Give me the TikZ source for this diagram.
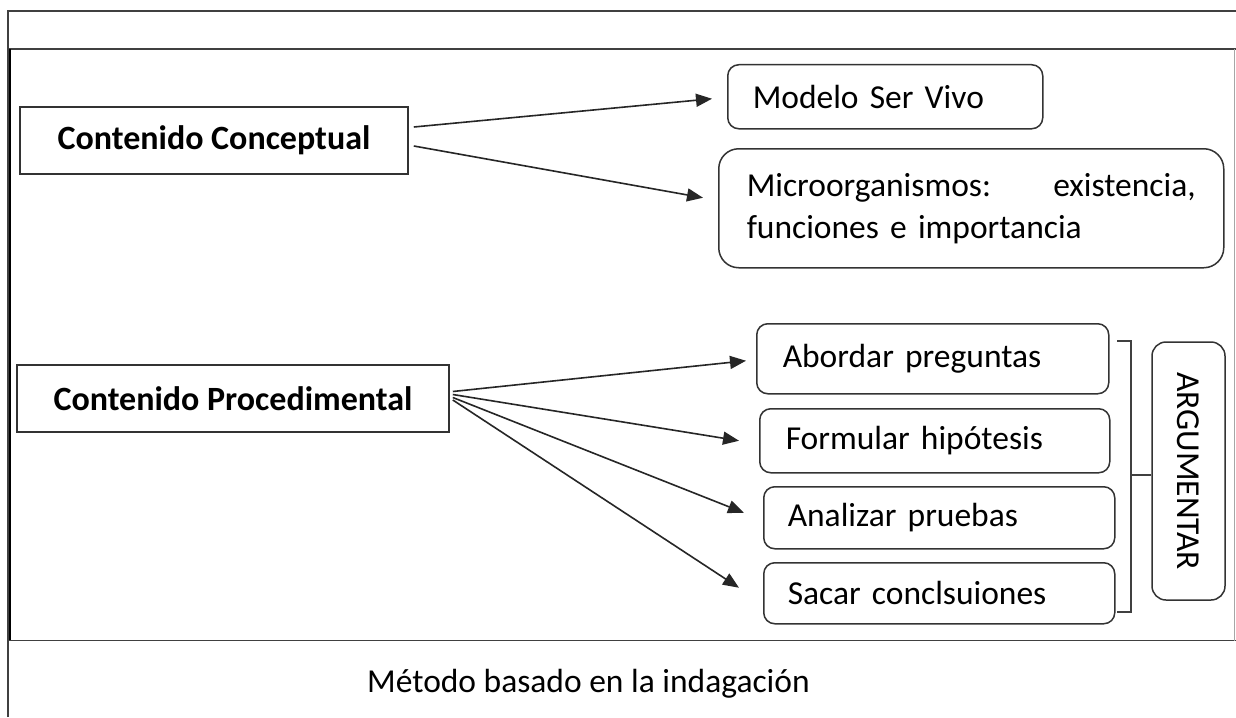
\documentclass[tikz,border=0pt]{standalone}
\usepackage{fontspec}
\setmainfont{Carlito}
\usetikzlibrary{arrows.meta,calc}
\newcommand\regfont{\fontsize{33.5}{42}\selectfont}
\newcommand\hdrfont{\fontsize{34}{40}\selectfont\bfseries}
\begin{document}
\begin{tikzpicture}[x=1pt,y=-1pt,
  frameline/.style={line width=1.8pt, draw=black!75},
  hbox/.style={draw=black!80, line width=1.6pt, minimum height=67pt, inner sep=0pt, font=\hdrfont},
  rbox/.style={draw=black!80, line width=1.5pt, rounded corners=11pt, anchor=north west, inner ysep=0pt, align=left, font=\regfont},
  arr/.style={line width=1.6pt, draw=black!85, -{Triangle[length=16pt,width=13pt]}},
  brk/.style={line width=1.5pt, draw=black!75}
]
\useasboundingbox (0,0) rectangle (1236,717);
\fill[white] (0,0) rectangle (1236,717);
% frames
\draw[frameline] (8,717) -- (8,11) -- (1236,11);
\draw[frameline] (8,49) -- (1236,49);
\draw[line width=2.2pt, draw=black] (10,49) -- (10,641);
\draw[frameline] (8,640.5) -- (1236,640.5);
\draw[draw=black!35, line width=1pt] (1234.5,49) -- (1234.5,641);
% headers
\node[hbox, minimum width=388pt] (cc) at (214,140.5) {Contenido Conceptual};
\node[hbox, minimum width=432pt] (pp) at (233,398.5) {Contenido Procedimental};
% conceptual targets
\node[rbox, text width=265pt, inner xsep=25pt, minimum height=64pt] (mo) at (727,64) {Modelo Ser Vivo};
\node[rbox, rounded corners=20pt, text width=449pt, inner xsep=28pt, minimum height=119pt] (mi) at (718,148) {Microorganismos:\hskip0pt plus1filll existencia,\\funciones e importancia};
% procedural targets
\node[rbox, text width=300pt, inner xsep=26pt, minimum height=70pt] (b1) at (756,323) {Abordar preguntas};
\node[rbox, text width=298pt, inner xsep=26pt, minimum height=64pt] (b2) at (759,408) {Formular hipótesis};
\node[rbox, text width=303pt, inner xsep=24pt, minimum height=62pt] (b3) at (763,486) {Analizar pruebas};
\node[rbox, text width=303pt, inner xsep=24pt, minimum height=61pt] (b4) at (763,562) {Sacar conclsuiones};
% argumentar
\node[draw=black!80, line width=1.5pt, rounded corners=14pt, rotate=-90, minimum width=258pt, minimum height=73pt, inner sep=0pt, font=\regfont] (ag) at (1188.5,471) {ARGUMENTAR};
\draw[brk] (1117,341) -- (1131,341) -- (1131,612) -- (1117,612);
\draw[brk] ($(ag.south)+(0,4)$) -- ++(-21,0);
% arrows
\draw[arr] ($(cc.east)+(5,-13.5)$) -- ($(mo.west)+(-15,2)$);
\draw[arr] ($(cc.east)+(5,5.5)$) -- ($(mi.west)+(-15,-10.5)$);
\draw[arr] ($(pp.east)+(3,-7)$) -- ($(b1.west)+(-10,2)$);
\draw[arr] ($(pp.east)+(3,-4)$) -- ($(b2.west)+(-20,0)$);
\draw[arr] ($(pp.east)+(3,-1)$) -- ($(b3.west)+(-19,-5)$);
\draw[arr] ($(pp.east)+(3,1.5)$) -- ($(b4.west)+(-24,-5.5)$);
% caption
\node[font=\regfont, anchor=west, inner sep=0pt] (cap) at (367,684) {Método basado en la indagación};
\end{tikzpicture}
\end{document}
